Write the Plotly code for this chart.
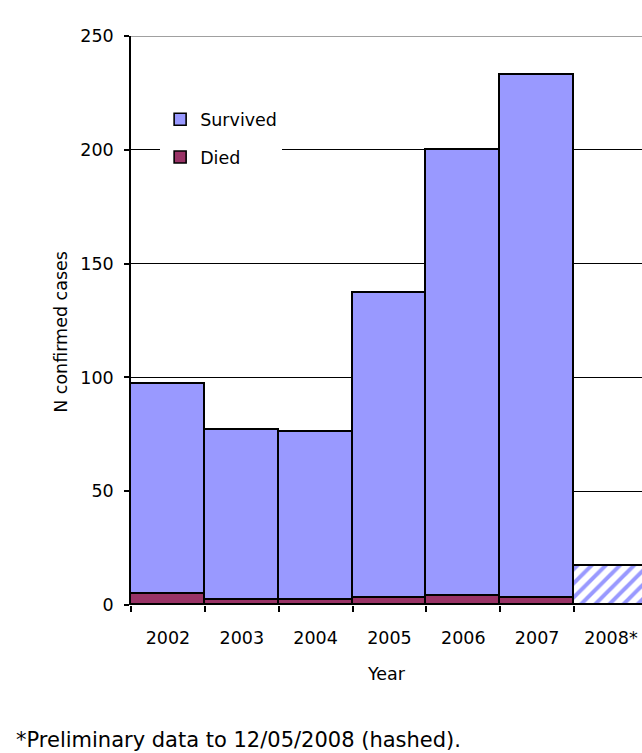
import plotly.graph_objects as go

years = ["2002", "2003", "2004", "2005", "2006", "2007", "2008*"]
died = [5, 2, 2, 3, 4, 3, 0]
total = [97, 77, 76, 137, 200, 233, 17]
survived = [t - d for t, d in zip(total, died)]
preliminary = [False, False, False, False, False, False, True]
y_ticks = [0, 50, 100, 150, 200, 250]

SURV = "#9999FF"
DIED = "#993366"

shapes_pat = ["/" if p else "" for p in preliminary]

fig = go.Figure()
fig.add_trace(go.Bar(
    x=years, y=died, name="Died", legendgroup="d", legendrank=2,
    marker=dict(color=DIED, line=dict(color="black", width=1.6),
                pattern=dict(shape=shapes_pat, fgcolor=[DIED] * len(years),
                             bgcolor=["white"] * len(years), fillmode="replace",
                             fgopacity=1, size=10, solidity=0.4)),
))
fig.add_trace(go.Bar(
    x=years, y=survived, name="Survived", legendgroup="s", legendrank=1,
    marker=dict(color=SURV, line=dict(color="black", width=1.6),
                pattern=dict(shape=shapes_pat, fgcolor=[SURV] * len(years),
                             bgcolor=["white"] * len(years), fillmode="replace",
                             fgopacity=1, size=10, solidity=0.4)),
))

font = "DejaVu Sans, Verdana, sans-serif"
fs = 17.5
fig.update_layout(
    width=642, height=753, autosize=False,
    margin=dict(l=131, r=0, t=36, b=148),
    paper_bgcolor="white", plot_bgcolor="white",
    barmode="stack", bargap=0,
    font=dict(family=font, size=fs, color="black"),
    showlegend=True,
    legend=dict(x=0.057, y=0.885, xanchor="left", yanchor="top",
                bgcolor="white", borderwidth=0,
                traceorder="grouped", tracegroupgap=12,
                font=dict(size=fs, family=font)),
    xaxis=dict(range=[-0.5, 6.42], showgrid=False, showline=False,
               ticks="outside", tickson="boundaries", ticklen=6, tickwidth=1.5,
               tickcolor="black", ticklabelstandoff=20,
               tickfont=dict(size=fs),
               title=dict(text="Year", standoff=21, font=dict(size=fs))),
    yaxis=dict(range=[0, 250], tickvals=y_ticks, showgrid=True, gridcolor="black",
               gridwidth=1.3, showline=True, linecolor="black", linewidth=1.5,
               ticks="outside", ticklen=5, tickwidth=1.5, tickcolor="black",
               ticklabelstandoff=7, zeroline=False, tickfont=dict(size=fs)),
    shapes=[dict(type="line", xref="paper", yref="y", x0=0, x1=1,
                 y0=y_ticks[-1], y1=y_ticks[-1],
                 line=dict(color="#808080", width=1.5), layer="above")],
    annotations=[
        dict(text="N confirmed cases", textangle=-90,
             xref="paper", yref="paper", x=-0.137, y=0.48,
             xanchor="center", yanchor="middle", showarrow=False,
             font=dict(size=fs, family=font, color="black")),
        dict(text="*Preliminary data to 12/05/2008 (hashed).",
             xref="paper", yref="paper", x=-0.229, y=-0.237,
             xanchor="left", yanchor="middle", showarrow=False,
             font=dict(size=21, family=font, color="black")),
    ],
)

fig.write_html("out.html")
